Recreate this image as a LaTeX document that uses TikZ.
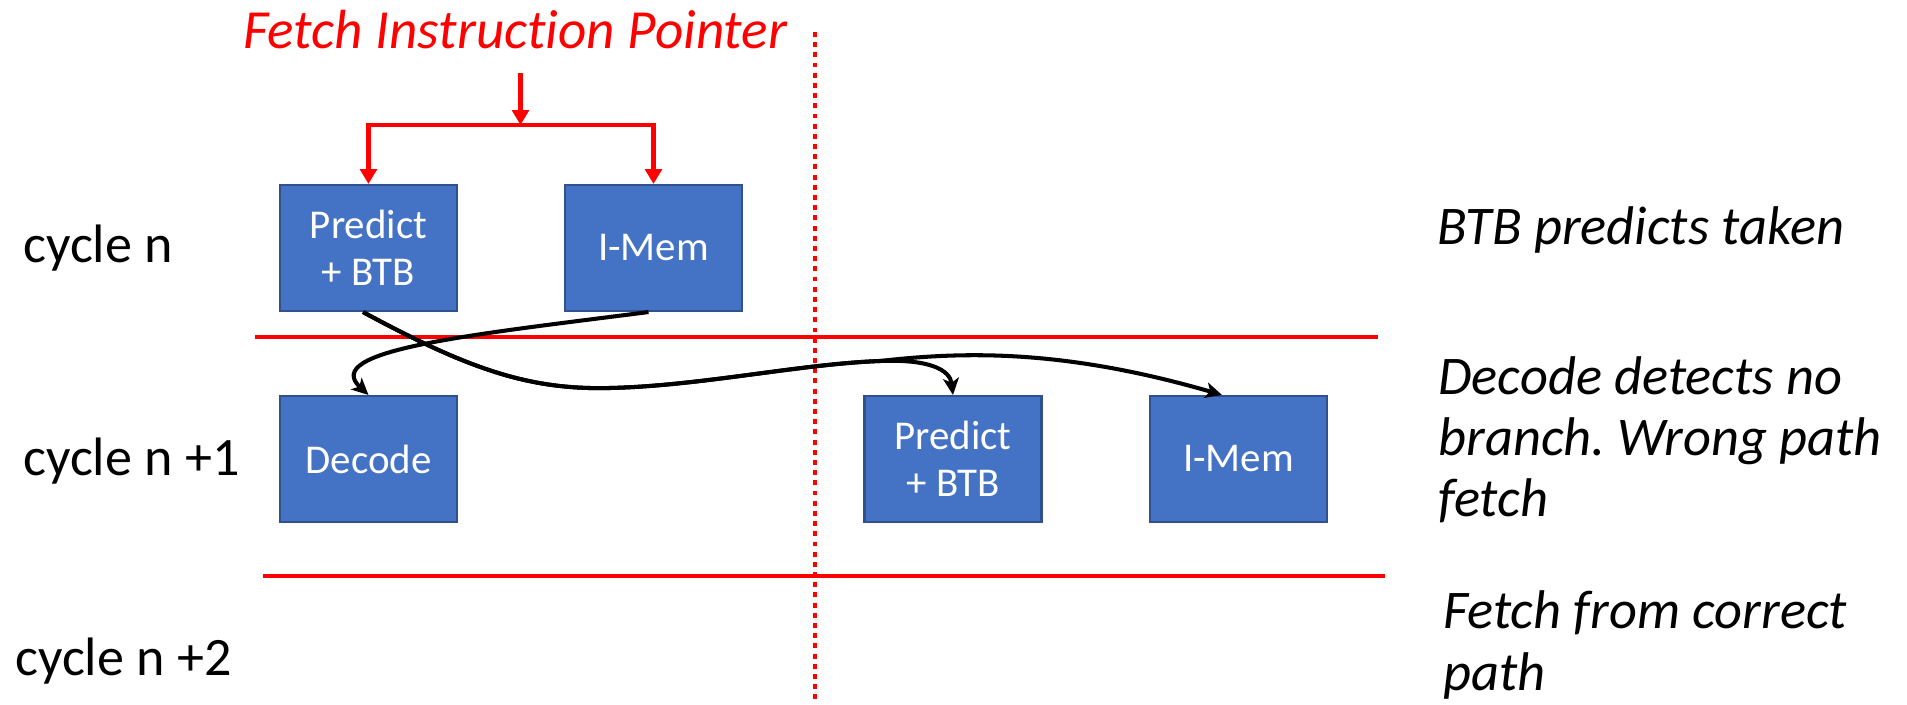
\documentclass[tikz,border=0pt]{standalone}
\usepackage{fontspec}
\setmainfont{Carlito}[Ligatures=NoCommon]
\usetikzlibrary{arrows.meta}
\definecolor{boxblue}{HTML}{4472C4}
\definecolor{boxedge}{HTML}{2F528F}
\definecolor{pipered}{HTML}{FF0000}
\frenchspacing

\begin{document}
\begin{tikzpicture}[x=0.02cm,y=-0.02cm,
  stage/.style={draw=boxedge, line width=1.2pt, fill=boxblue,
    minimum width=3.54cm, minimum height=2.52cm, inner sep=0pt,
    text=white, align=center, font=\fontsize{23.3}{26.7}\selectfont},
  cyclelbl/.style={anchor=base west, inner sep=0pt,
    font=\fontsize{30.8}{35}\selectfont},
  note/.style={anchor=base west, inner sep=0pt, align=left,
    font=\fontsize{31}{35}\selectfont\itshape},
  ipflow/.style={draw=pipered, line width=2.3pt,
    -{Triangle[length=8.5pt,width=9.5pt]}},
  cyclesep/.style={draw=pipered, line width=2.4pt},
  redirect/.style={draw=black, line width=2.3pt,
    -{Stealth[length=9.5pt,width=9pt,inset=2.5pt]}}
]
\useasboundingbox (0,0) rectangle (1907,705);

% fetch pointer label
\node[anchor=base west, inner sep=0pt, text=pipered,
      font=\fontsize{31.4}{35}\selectfont\itshape] (fip) at (243,49)
      {Fetch Instruction Pointer};

% cycle labels
\node[cyclelbl] (cyc0) at (23,263) {cycle n};
\node[cyclelbl] (cyc1) at (23,476) {cycle n +1};
\node[cyclelbl] (cyc2) at (15,675) {cycle n +2};

% pipeline stages
\node[stage] (p1)  at (368.5,248) {Predict\\+ BTB};
\node[stage] (m1)  at (653.5,248) {I-Mem};
\node[stage] (dec) at (368.5,459) {Decode};
\node[stage] (p2)  at (953,459)   {Predict\\+ BTB};
\node[stage] (m2)  at (1238.5,459) {I-Mem};

% cycle boundaries
\draw[cyclesep] (255,337) -- (1378,337);
\draw[cyclesep] (263,576) -- (1385,576);
\draw[pipered, line width=2.8pt, dash pattern=on 2.8pt off 3pt]
  (815,32) -- (815,700);

% fetch pointer distribution
\coordinate (ipsrc) at (520.5,73);
\coordinate (ipfork) at (520.5,125);
\draw[ipflow] (ipsrc) -- (ipfork);
\draw[ipflow] (ipfork) -| (p1.north);
\draw[ipflow] (ipfork) -| (m1.north);

% next-cycle flows
\coordinate (fork) at (880,361);
\draw[redirect] ([xshift=-0.1cm]m1.south)
  .. controls (470,335) and (320,350) .. (dec.north);
\draw[redirect] ([xshift=-0.11cm]p1.south)
  .. controls (470,370) and (530,390) .. (610,388)
  .. controls (700,386) and (800,364) .. (fork)
  .. controls (930,359) and (950,370) .. (p2.north);
\draw[redirect] ([xshift=-0.11cm]p1.south)
  .. controls (470,370) and (530,390) .. (610,388)
  .. controls (700,386) and (800,364) .. (fork)
  .. controls (960,352) and (1060,348) .. ([xshift=-0.33cm]m2.north);

% notes (multi-line nodes are anchored at the baseline of their last line)
\node[note] (n0) at (1437,245) {BTB predicts taken};
\node[note] (n1) at (1438,517) {Decode detects no\\branch. Wrong path\\fetch};
\node[note] (n2) at (1443,690) {Fetch from correct\\path};
\end{tikzpicture}
\end{document}
